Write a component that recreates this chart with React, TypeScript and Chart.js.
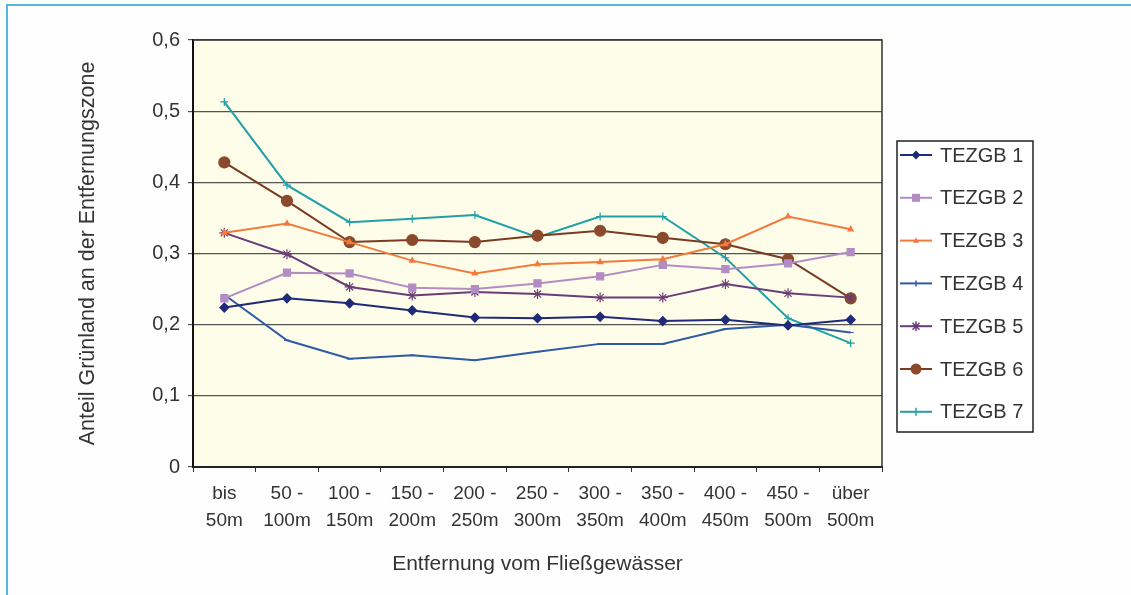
import React, { useEffect, useRef } from "react";
import { Chart, registerables } from "chart.js";

Chart.register(...registerables);

const categories: string[][] = [
  ["bis", "50m"],
  ["50 -", "100m"],
  ["100 -", "150m"],
  ["150 -", "200m"],
  ["200 -", "250m"],
  ["250 -", "300m"],
  ["300 -", "350m"],
  ["350 -", "400m"],
  ["400 -", "450m"],
  ["450 -", "500m"],
  ["über", "500m"],
];

const seriesNames = ["TEZGB 1", "TEZGB 2", "TEZGB 3", "TEZGB 4", "TEZGB 5", "TEZGB 6", "TEZGB 7"];

const tezgb1 = [0.224, 0.237, 0.23, 0.22, 0.21, 0.209, 0.211, 0.205, 0.207, 0.199, 0.207];
const tezgb2 = [0.237, 0.273, 0.272, 0.252, 0.25, 0.258, 0.268, 0.284, 0.278, 0.286, 0.302];
const tezgb3 = [0.329, 0.342, 0.316, 0.29, 0.272, 0.285, 0.288, 0.292, 0.313, 0.352, 0.334];
const tezgb4 = [0.242, 0.178, 0.152, 0.157, 0.15, 0.162, 0.173, 0.173, 0.194, 0.2, 0.189];
const tezgb5 = [0.329, 0.299, 0.253, 0.241, 0.246, 0.243, 0.238, 0.238, 0.257, 0.244, 0.238];
const tezgb6 = [0.428, 0.374, 0.316, 0.319, 0.316, 0.325, 0.332, 0.322, 0.313, 0.292, 0.237];
const tezgb7 = [0.513, 0.396, 0.344, 0.349, 0.354, 0.323, 0.352, 0.352, 0.294, 0.209, 0.174];

const seriesValues = [tezgb1, tezgb2, tezgb3, tezgb4, tezgb5, tezgb6, tezgb7];
const seriesColors = ["#1f2a78", "#b48cc4", "#f47a3c", "#2f5aa5", "#6a3d78", "#7a3b22", "#20a0a8"];
const markerColors = ["#1f2a78", "#b48cc4", "#f47a3c", "#2f5aa5", "#6a3d78", "#8b4a2c", "#20a0a8"];
const pointStyles = ["rectRot", "rect", "triangle", "line", "star", "circle", "cross"];
const pointSizes = [4.5, 5, 3, 3, 5, 5.5, 4];

const yTickLabels = ["0", "0,1", "0,2", "0,3", "0,4", "0,5", "0,6"];

const FONT = "'Liberation Sans', Arial, sans-serif";
const TEXT = "#333";

const backgroundPlugin = {
  id: "bgFrame",
  beforeDraw(chart: any) {
    const { ctx, chartArea } = chart;
    ctx.save();
    ctx.fillStyle = "#fefefe";
    ctx.fillRect(0, 0, chart.width, chart.height);
    ctx.strokeStyle = "#55b6e6";
    ctx.lineWidth = 2;
    ctx.strokeRect(7, 5, chart.width + 20, chart.height + 20);
    ctx.fillStyle = "#fdfde9";
    ctx.fillRect(chartArea.left, chartArea.top, chartArea.right - chartArea.left, chartArea.bottom - chartArea.top);
    ctx.restore();
  },
  afterDatasetsDraw(chart: any) {
    const { ctx, chartArea } = chart;
    ctx.save();
    ctx.strokeStyle = "#333";
    ctx.lineWidth = 1.5;
    ctx.beginPath();
    ctx.moveTo(chartArea.left, chartArea.top);
    ctx.lineTo(chartArea.right, chartArea.top);
    ctx.lineTo(chartArea.right, chartArea.bottom);
    ctx.stroke();
    ctx.restore();
  },
};

function drawMarker(ctx: CanvasRenderingContext2D, style: string, r: number, x: number, y: number) {
  ctx.beginPath();
  switch (style) {
    case "rectRot":
      ctx.moveTo(x, y - r);
      ctx.lineTo(x + r, y);
      ctx.lineTo(x, y + r);
      ctx.lineTo(x - r, y);
      ctx.closePath();
      ctx.fill();
      break;
    case "rect":
      ctx.rect(x - r * 0.8, y - r * 0.8, r * 1.6, r * 1.6);
      ctx.fill();
      break;
    case "triangle":
      ctx.moveTo(x, y - r);
      ctx.lineTo(x + r, y + r * 0.7);
      ctx.lineTo(x - r, y + r * 0.7);
      ctx.closePath();
      ctx.fill();
      break;
    case "circle":
      ctx.arc(x, y, r, 0, Math.PI * 2);
      ctx.fill();
      break;
    case "star":
      ctx.moveTo(x - r, y);
      ctx.lineTo(x + r, y);
      ctx.moveTo(x, y - r);
      ctx.lineTo(x, y + r);
      ctx.moveTo(x - r * 0.7, y - r * 0.7);
      ctx.lineTo(x + r * 0.7, y + r * 0.7);
      ctx.moveTo(x - r * 0.7, y + r * 0.7);
      ctx.lineTo(x + r * 0.7, y - r * 0.7);
      ctx.stroke();
      break;
    default:
      ctx.moveTo(x, y - r);
      ctx.lineTo(x, y + r);
      ctx.stroke();
  }
}

const legendPlugin = {
  id: "boxLegend",
  afterDraw(chart: any) {
    const { ctx } = chart;
    const x0 = 897;
    const y0 = 141;
    const w = 136;
    const h = 291;
    ctx.save();
    ctx.fillStyle = "#ffffff";
    ctx.fillRect(x0, y0, w, h);
    ctx.strokeStyle = "#222";
    ctx.lineWidth = 1.5;
    ctx.strokeRect(x0, y0, w, h);
    chart.data.datasets.forEach((ds: any, i: number) => {
      const y = 155 + i * 42.8;
      ctx.strokeStyle = ds.borderColor;
      ctx.lineWidth = 2;
      ctx.beginPath();
      ctx.moveTo(900, y);
      ctx.lineTo(932, y);
      ctx.stroke();
      ctx.fillStyle = ds.pointBackgroundColor;
      ctx.strokeStyle = ds.pointBorderColor;
      ctx.lineWidth = 1.5;
      drawMarker(ctx, ds.pointStyle, ds.pointRadius, 916, y);
      ctx.fillStyle = TEXT;
      ctx.font = `20px ${FONT}`;
      ctx.textBaseline = "middle";
      ctx.textAlign = "left";
      ctx.fillText(ds.label, 940, y + 1);
    });
    ctx.restore();
  },
};

export default function App() {
  const canvasRef = useRef<HTMLCanvasElement | null>(null);

  useEffect(() => {
    if (!canvasRef.current) return;
    const datasets = seriesNames.map((name, i) => ({
      label: name,
      data: seriesValues[i],
      borderColor: seriesColors[i],
      backgroundColor: markerColors[i],
      pointBackgroundColor: markerColors[i],
      pointBorderColor: markerColors[i],
      pointStyle: pointStyles[i],
      pointRadius: pointSizes[i],
      pointBorderWidth: 1.2,
      borderWidth: 2,
      tension: 0,
      fill: false,
    }));
    const chart = new Chart(canvasRef.current, {
      type: "line",
      data: { labels: categories, datasets },
      plugins: [backgroundPlugin, legendPlugin],
      options: {
        animation: false,
        responsive: false,
        maintainAspectRatio: false,
        layout: { padding: { left: 60, top: 40, right: 249, bottom: 18 } },
        plugins: {
          legend: { display: false },
          tooltip: { enabled: false },
        },
        scales: {
          x: {
            offset: true,
            afterFit: (s: any) => {
              s.height = 110;
            },
            grid: {
              offset: true,
              drawOnChartArea: false,
              drawTicks: true,
              tickLength: 5,
              color: "#333",
            },
            border: { display: true, color: "#222", width: 2 },
            ticks: {
              color: TEXT,
              font: { family: FONT, size: 19, lineHeight: 1.42 },
              padding: 8,
              maxRotation: 0,
              autoSkip: false,
            },
            title: {
              display: true,
              text: "Entfernung vom Fließgewässer",
              color: TEXT,
              font: { family: FONT, size: 21 },
              padding: { top: 0, bottom: 0 },
            },
          },
          y: {
            min: 0,
            max: 0.6,
            afterFit: (s: any) => {
              s.width = 133;
            },
            grid: {
              color: "#555",
              lineWidth: 1.2,
              tickLength: 5,
            },
            border: { display: true, color: "#111", width: 2 },
            ticks: {
              stepSize: 0.1,
              color: TEXT,
              font: { family: FONT, size: 20 },
              padding: 8,
              callback: (_v: any, idx: number) => yTickLabels[idx],
            },
            title: {
              display: true,
              text: "Anteil Grünland an der Entfernungszone",
              color: TEXT,
              font: { family: FONT, size: 21.5 },
              padding: { top: 15, bottom: 0 },
            },
          },
        },
      } as any,
    });
    return () => chart.destroy();
  }, []);

  return (
    <div style={{ position: "fixed", left: 0, top: 0, width: 1131, height: 595 }}>
      <canvas ref={canvasRef} width={1131} height={595} style={{ width: 1131, height: 595 }} />
    </div>
  );
}
